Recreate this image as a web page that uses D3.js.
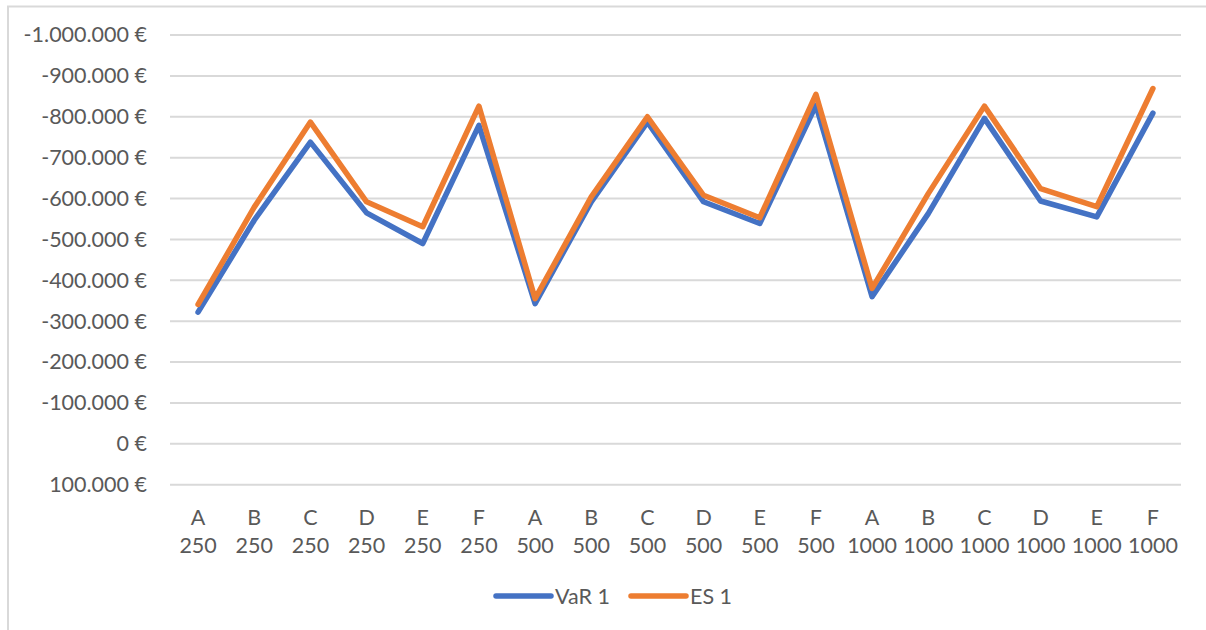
<!DOCTYPE html>
<html>
<head>
<meta charset="utf-8">
<script src="https://cdn.jsdelivr.net/npm/d3@7"></script>
<style>
  html, body { margin: 0; padding: 0; background: #fff; }
  svg { display: block; }
  text { font-family: Lato, "Open Sans", sans-serif; fill: #595959; }
</style>
</head>
<body>
<svg id="chart" width="1206" height="630"></svg>
<script>
const letters = ["A","B","C","D","E","F","A","B","C","D","E","F","A","B","C","D","E","F"];
const sizes = ["250","250","250","250","250","250","500","500","500","500","500","500","1000","1000","1000","1000","1000","1000"];
const varValues = [-322000,-547000,-738000,-565000,-490000,-779000,-343000,-592000,-787000,-592000,-539000,-828000,-360000,-563000,-796000,-594000,-555000,-809000];
const esValues  = [-341000,-579000,-787000,-592000,-531000,-826000,-355000,-604000,-800000,-608000,-553000,-855000,-380000,-612000,-826000,-624000,-580000,-869000];
const yTicks = [-1000000,-900000,-800000,-700000,-600000,-500000,-400000,-300000,-200000,-100000,0,100000];
const seriesNames = ["VaR 1","ES 1"];
const colors = ["#4472C4","#ED7D31"];

(function() {
const svg = d3.select("#chart");
const W = 1206, H = 630;
const pLeft = 170, pRight = 1181, pTop = 35, pBottom = 484.7;

// chart border
svg.append("rect").attr("x", 8).attr("y", 6.5).attr("width", W).attr("height", H)
  .attr("fill", "none").attr("stroke", "#d9d9d9").attr("stroke-width", 2);

const idx = letters.map((d, i) => i);
const x = d3.scaleBand().domain(idx).range([pLeft, pRight]);
const y = d3.scaleLinear().domain([-1000000, 100000]).range([pTop, pBottom]);

const loc = d3.formatLocale({decimal: ",", thousands: ".", grouping: [3], currency: ["", " €"], minus: "-"});
const fmt = loc.format("$,.0f");

// gridlines
svg.append("g").selectAll("line").data(yTicks).join("line")
  .attr("x1", pLeft).attr("x2", pRight)
  .attr("y1", d => y(d)).attr("y2", d => y(d))
  .attr("stroke", "#d9d9d9").attr("stroke-width", 2);

// y axis
const yAxis = svg.append("g").attr("transform", `translate(${pLeft},0)`)
  .call(d3.axisLeft(y).tickValues(yTicks).tickFormat(fmt).tickSize(0).tickPadding(23));
yAxis.select(".domain").remove();
yAxis.selectAll("text").style("font-size", "21.5px").style("font-family", "Lato, sans-serif").attr("fill", "#595959");

// x axis
const xAxis = svg.append("g").attr("transform", `translate(0,${pBottom})`)
  .call(d3.axisBottom(x).tickSize(0).tickFormat(() => ""));
xAxis.select(".domain").remove();
xAxis.selectAll(".tick text").each(function(i) {
  const t = d3.select(this);
  t.text(null).attr("y", 0).attr("dy", null);
  t.append("tspan").attr("x", 0).attr("y", 40).text(letters[i]);
  t.append("tspan").attr("x", 0).attr("y", 68).text(sizes[i]);
});
xAxis.selectAll("text").style("font-size", "21.5px").style("font-family", "Lato, sans-serif").attr("fill", "#595959");

// lines
const line = d3.line().x((d, i) => x(i) + x.bandwidth() / 2).y(d => y(d));
[varValues, esValues].forEach((vals, k) => {
  svg.append("path").datum(vals).attr("d", line)
    .attr("fill", "none").attr("stroke", colors[k]).attr("stroke-width", 5.5)
    .attr("stroke-linejoin", "round").attr("stroke-linecap", "round");
});

// legend
const legendY = 596;
const legendX = [496, 631];
seriesNames.forEach((name, k) => {
  const g = svg.append("g").attr("transform", `translate(${legendX[k]},${legendY})`);
  g.append("line").attr("x1", 0).attr("x2", 55).attr("y1", 0).attr("y2", 0)
    .attr("stroke", colors[k]).attr("stroke-width", 5.5).attr("stroke-linecap", "round");
  g.append("text").attr("x", 59).attr("y", 0).attr("dy", "0.35em")
    .style("font-size", "21.5px").text(name);
});
})();
</script>
</body>
</html>
